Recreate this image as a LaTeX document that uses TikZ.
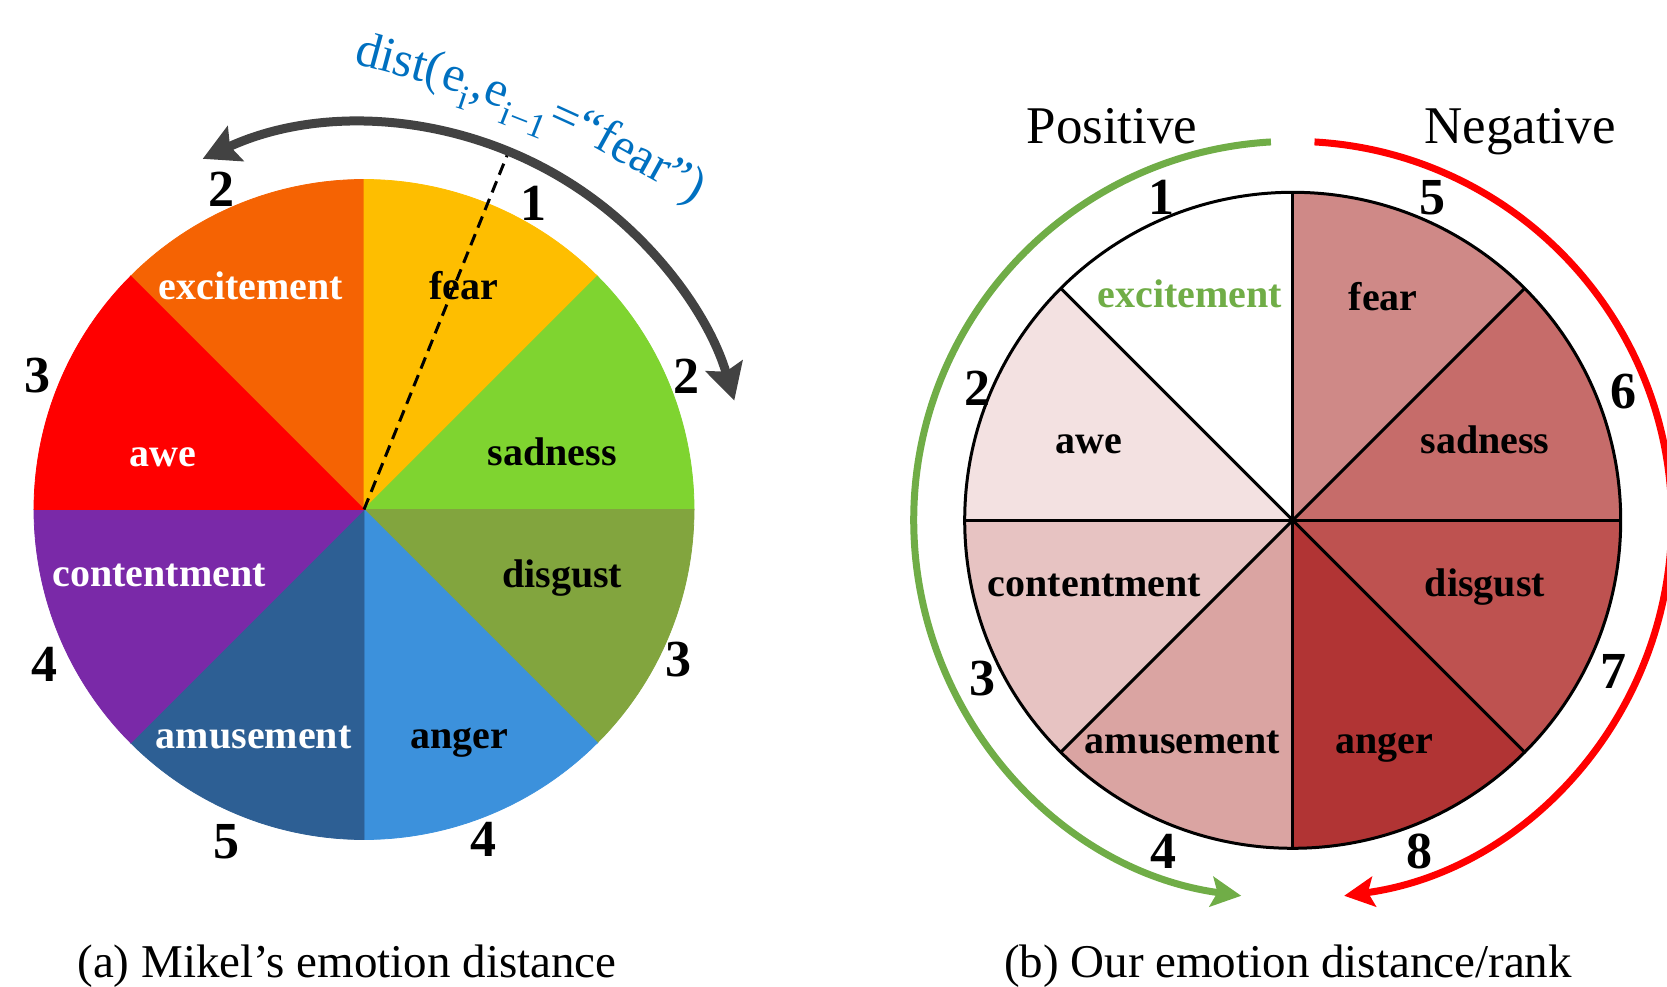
\documentclass[tikz,border=0pt]{standalone}
\usepackage{fontspec}
\setmainfont{Liberation Serif}
\usetikzlibrary{arrows.meta}
\definecolor{cExc}{HTML}{F56303}
\definecolor{cFear}{HTML}{FEBE00}
\definecolor{cSad}{HTML}{7FD430}
\definecolor{cDis}{HTML}{82A53E}
\definecolor{cAng}{HTML}{3C91DC}
\definecolor{cAmu}{HTML}{2D5F94}
\definecolor{cCon}{HTML}{7A29A8}
\definecolor{cAwe}{HTML}{FF0000}
\definecolor{rFear}{HTML}{CF8987}
\definecolor{rSad}{HTML}{C66C6A}
\definecolor{rDis}{HTML}{BE5250}
\definecolor{rAng}{HTML}{B13434}
\definecolor{rAmu}{HTML}{DAA4A2}
\definecolor{rCon}{HTML}{E7C3C2}
\definecolor{rAwe}{HTML}{F3E1E1}
\definecolor{cArrow}{HTML}{424242}
\definecolor{cPos}{HTML}{70AD47}
\definecolor{cBlue}{HTML}{0070C0}
\newcommand\subsc[1]{\raisebox{-0.3em}{\fontsize{35}{35}\selectfont #1}}
\begin{document}
\begin{tikzpicture}[x=1pt,y=1pt,
  lab/.style={font=\fontsize{40}{48}\selectfont\bfseries, anchor=base, inner sep=0pt},
  num/.style={font=\fontsize{52}{62}\selectfont\bfseries, inner sep=0pt},
  head/.style={font=\fontsize{53}{64}\selectfont, anchor=base, inner sep=0pt},
  capt/.style={font=\fontsize{47}{56}\selectfont, anchor=base, inner sep=0pt},
  distt/.style={font=\fontsize{50}{60}\selectfont, text=cBlue, anchor=base west, inner sep=0pt},
  sector/.style={line width=0.8pt}]
\useasboundingbox (0,0) rectangle (1667,986);
\coordinate (L) at (364,476.5);
\coordinate (R) at (1292.7,465.7);

% ---------- left wheel ----------
\begin{scope}[shift={(364,476.5)}]
  \foreach \a/\c in {90/cExc,45/cFear,0/cSad,-45/cDis,-90/cAng,-135/cAmu,180/cCon,135/cAwe}
    \filldraw[sector, fill=\c, draw=\c] (0,0) -- (\a:330) arc[start angle=\a, end angle=\a+45, radius=330] -- cycle;
\end{scope}

\node[lab, text=white] (lexc) at (250.9,686.1) {excitement};
\node[lab] (lfear) at (463.7,686.1) {fear};
\node[lab, text=white] (lawe) at (162.8,519.4) {awe};
\node[lab] (lsad) at (552.2,520.4) {sadness};
\node[lab, text=white] (lcon) at (159.3,399.3) {contentment};
\node[lab] (ldis) at (562.3,398.4) {disgust};
\node[lab, text=white] (lamu) at (253.7,238) {amusement};
\node[lab] (lang) at (459,238) {anger};

\node[num] (ln1) at (221.8,796.4) {2};
\node[num] (ln2) at (533.3,782.5) {1};
\node[num] (ln3) at (37.8,610.2) {3};
\node[num] (ln4) at (686.6,610.2) {2};
\node[num] (ln5) at (44.8,321.6) {4};
\node[num] (ln6) at (678.6,326.2) {3};
\node[num] (ln7) at (226.5,144.7) {5};
\node[num] (ln8) at (483.7,147) {4};

\begin{scope}[shift={(364,476.5)}]
  \draw[line width=3pt, dash pattern=on 12pt off 7pt] (0,0) -- (68:386);
  \draw[line width=9pt, draw=cArrow,
        {Stealth[length=36pt,width=38pt,inset=6pt]}-{Stealth[length=36pt,width=38pt,inset=6pt]}]
        (114.7:386) arc[start angle=114.7, end angle=16.4, radius=386];
\end{scope}

\node[distt, rotate=-15] (d1) at (353,923) {dist(};
\node[distt, rotate=-18.5] (d2) at (d1.base east) {e\subsc{i},};
\node[distt, rotate=-21.5] (d3) at (d2.base east) {e\subsc{i−1}};
\node[distt, rotate=-24.5] (d4) at (d3.base east) {=“};
\node[distt, rotate=-29] (d5) at (d4.base east) {fear”)};

% ---------- right wheel ----------
\begin{scope}[shift={(1292.7,465.7)}]
  \foreach \a/\c in {90/white,45/rFear,0/rSad,-45/rDis,-90/rAng,-135/rAmu,180/rCon,135/rAwe}
    \filldraw[sector, fill=\c, draw=\c] (0,0) -- (\a:328) arc[start angle=\a, end angle=\a+45, radius=328] -- cycle;
  \draw[line width=3pt] (0,0) circle[radius=328];
  \foreach \a/\b in {0/180,45/225,90/270,135/315}
    \draw[line width=3pt] (\a:328) -- (\b:328);
  \draw[line width=7pt, draw=cPos, -{Stealth[length=30pt,width=30pt,inset=6pt]}]
        (93.3:379) arc[start angle=93.3, end angle=262.2, radius=379];
  \draw[line width=7pt, draw=red, -{Stealth[length=30pt,width=30pt,inset=6pt]}]
        (86.7:379) arc[start angle=86.7, end angle=-82.2, radius=379];
\end{scope}

\node[lab, text=cPos] (rexc) at (1190,678.5) {excitement};
\node[lab] (rfear) at (1383.3,675.9) {fear};
\node[lab] (rawe) at (1088.8,532) {awe};
\node[lab] (rsad) at (1485,532) {sadness};
\node[lab] (rcon) at (1094.6,389.3) {contentment};
\node[lab] (rdis) at (1485,389.3) {disgust};
\node[lab] (ramu) at (1182.5,232.4) {amusement};
\node[lab] (rang) at (1384,232.4) {anger};

\node[num] (rn1) at (1161.1,788.3) {1};
\node[num] (rn5) at (1432.2,788.3) {5};
\node[num] (rn2) at (977.9,597.4) {2};
\node[num] (rn6) at (1623,594.8) {6};
\node[num] (rn3) at (982.9,307.2) {3};
\node[num] (rn7) at (1613.9,315) {7};
\node[num] (rn4) at (1163.6,134.6) {4};
\node[num] (rn8) at (1419.7,134.6) {8};

\node[head] (pos) at (1112,842.2) {Positive};
\node[head] (neg) at (1520,842.2) {Negative};

\node[capt] (capa) at (347,9) {(a) Mikel’s emotion distance};
\node[capt] (capb) at (1288,9) {(b) Our emotion distance/rank};
\end{tikzpicture}
\end{document}
